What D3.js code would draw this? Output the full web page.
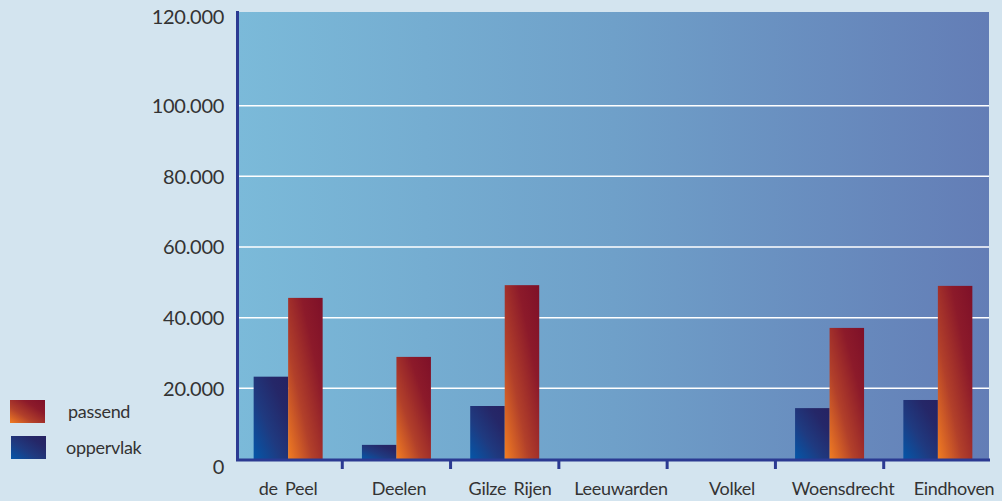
<!DOCTYPE html>
<html>
<head>
<meta charset="utf-8">
<script src="https://cdn.jsdelivr.net/npm/d3@7"></script>
<style>
  html, body { margin: 0; padding: 0; background: #d3e4ef; }
  svg { display: block; }
  text { font-family: Lato, "Noto Sans", sans-serif; fill: #333333; }
</style>
</head>
<body>
<svg id="chart" width="1002" height="501"></svg>
<script>
// Airbase data: two series per base
const categories = ["de Peel", "Deelen", "Gilze Rijen", "Leeuwarden", "Volkel", "Woensdrecht", "Eindhoven"];
const series = ["oppervlak", "passend"];
const oppervlak = [23300, 4000, 15000, 0, 0, 14400, 16700];
const passend   = [45600, 28900, 49200, 0, 0, 37100, 49000];
const yTicks = [0, 20000, 40000, 60000, 80000, 100000, 120000];
const yTickLabels = ["0", "20.000", "40.000", "60.000", "80.000", "100.000", "120.000"];
const legendLabels = ["passend", "oppervlak"];

const svg = d3.select("#chart");
const plot = { left: 237.5, top: 12, right: 989, bottom: 459 };

const defs = svg.append("defs");

// plot background: light blue on the left fading to slate blue on the right
const bg = defs.append("linearGradient").attr("id", "plotBg")
  .attr("x1", 0).attr("y1", 0).attr("x2", 1).attr("y2", 0);
bg.append("stop").attr("offset", 0).attr("stop-color", "#7bbad9");
bg.append("stop").attr("offset", 0.5).attr("stop-color", "#6fa0c9");
bg.append("stop").attr("offset", 1).attr("stop-color", "#637db6");

// bar fills: diagonal, bright in the lower-left corner
const gPassend = defs.append("linearGradient").attr("id", "gPassend")
  .attr("x1", 0).attr("y1", 1).attr("x2", 1).attr("y2", 0);
gPassend.append("stop").attr("offset", 0).attr("stop-color", "#f27d22");
gPassend.append("stop").attr("offset", 0.35).attr("stop-color", "#b2402a");
gPassend.append("stop").attr("offset", 0.7).attr("stop-color", "#8c1a2a");
gPassend.append("stop").attr("offset", 1).attr("stop-color", "#7e1028");

const gOpp = defs.append("linearGradient").attr("id", "gOpp")
  .attr("x1", 0).attr("y1", 1).attr("x2", 1).attr("y2", 0);
gOpp.append("stop").attr("offset", 0).attr("stop-color", "#0456a8");
gOpp.append("stop").attr("offset", 0.4).attr("stop-color", "#1f3a80");
gOpp.append("stop").attr("offset", 0.75).attr("stop-color", "#252768");
gOpp.append("stop").attr("offset", 1).attr("stop-color", "#262262");

const fills = { passend: "url(#gPassend)", oppervlak: "url(#gOpp)" };

// scales
const x = d3.scaleBand().domain(categories).range([234, 992]).paddingInner(0).paddingOuter(0);
const xSub = d3.scaleBand().domain(series).range([0, 69]);
const xLabel = d3.scalePoint().domain(categories).range([288, 954]);
const y = d3.scaleLinear().domain([0, 120000]).range([plot.bottom, 35]);

// plot area
svg.append("rect")
  .attr("x", plot.left).attr("y", plot.top)
  .attr("width", plot.right - plot.left).attr("height", plot.bottom - plot.top)
  .attr("fill", "url(#plotBg)");

// horizontal grid lines
svg.append("g").selectAll("line")
  .data(yTicks.filter(v => v > 0 && v < 120000))
  .join("line")
  .attr("x1", plot.left).attr("x2", plot.right)
  .attr("y1", d => y(d)).attr("y2", d => y(d))
  .attr("stroke", "#ffffff").attr("stroke-width", 1.5);

// bars
const rows = categories.map((c, i) => ({ cat: c, oppervlak: oppervlak[i], passend: passend[i] }));
const groups = svg.append("g").selectAll("g")
  .data(rows).join("g")
  .attr("transform", d => `translate(${x(d.cat) + (x.bandwidth() - 69) / 2},0)`);
groups.selectAll("rect")
  .data(d => series.map(s => ({ s, v: d[s] })).filter(o => o.v > 0))
  .join("rect")
  .attr("x", d => xSub(d.s))
  .attr("width", xSub.bandwidth())
  .attr("y", d => y(d.v))
  .attr("height", d => y(0) - y(d.v))
  .attr("fill", d => fills[d.s]);

// axes
const axisColor = "#2b3a92";
svg.append("line")
  .attr("x1", plot.left).attr("x2", plot.left)
  .attr("y1", 11).attr("y2", 461)
  .attr("stroke", axisColor).attr("stroke-width", 3);
svg.append("line")
  .attr("x1", 236).attr("x2", 990)
  .attr("y1", 460).attr("y2", 460)
  .attr("stroke", axisColor).attr("stroke-width", 3);

// category separator ticks
svg.append("g").selectAll("line")
  .data(categories.slice(1))
  .join("line")
  .attr("x1", d => x(d)).attr("x2", d => x(d))
  .attr("y1", 460).attr("y2", 469)
  .attr("stroke", axisColor).attr("stroke-width", 3);

// category labels
svg.append("g").selectAll("text")
  .data(categories)
  .join("text")
  .attr("x", d => xLabel(d))
  .attr("y", 495)
  .attr("text-anchor", "middle")
  .attr("font-size", 18)
  .attr("letter-spacing", -0.3)
  .attr("word-spacing", 3)
  .text(d => d);

// value labels on the left
svg.append("g").selectAll("text")
  .data(yTicks)
  .join("text")
  .attr("x", 224)
  .attr("y", d => {
    if (d === 0) return y(d) + 8;
    if (d === 120000) return plot.top + 5;
    return y(d);
  })
  .attr("dy", "0.36em")
  .attr("text-anchor", "end")
  .attr("font-size", 20)
  .attr("letter-spacing", -0.3)
  .text((d, i) => yTickLabels[i]);

// legend
const legend = svg.append("g");
const legendItems = legend.selectAll("g")
  .data(legendLabels)
  .join("g")
  .attr("transform", (d, i) => `translate(${10 + i}, ${400 + i * 36})`);
legendItems.append("rect")
  .attr("width", 35).attr("height", 23)
  .attr("fill", d => fills[d]);
legendItems.append("text")
  .attr("x", (d, i) => i === 0 ? 58 : 55)
  .attr("y", 11.5)
  .attr("dy", "0.36em")
  .attr("font-size", 18)
  .attr("letter-spacing", -0.3)
  .text(d => d);
</script>
</body>
</html>
